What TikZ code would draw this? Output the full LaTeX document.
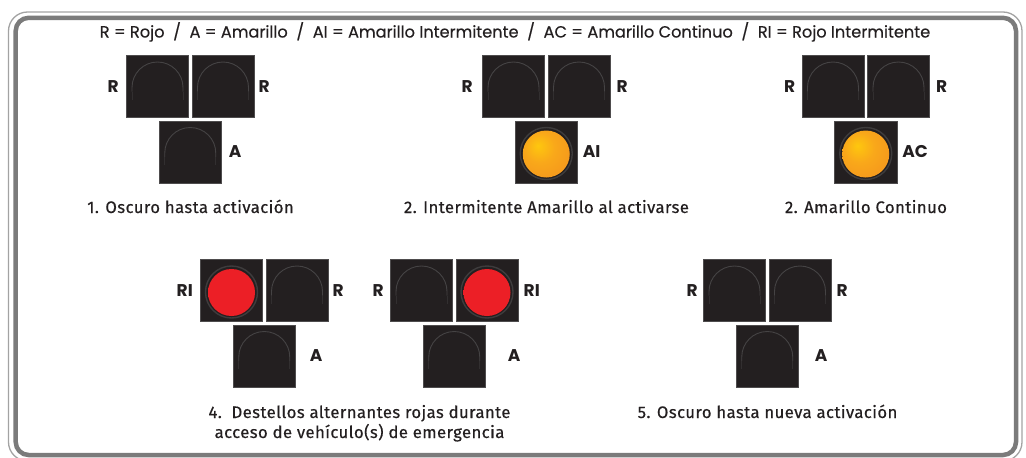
\documentclass[tikz,border=0pt]{standalone}
\usepackage{fontspec}
\setmainfont{Poppins}
\newfontfamily\legendfont[FakeBold=0.4]{Poppins}
\newfontfamily\capfont[FakeBold=0.5, LetterSpace=2.5]{Fira Sans}
\usetikzlibrary{positioning, calc}

\definecolor{housing}{HTML}{231F20}
\definecolor{housingedge}{HTML}{4E4C4D}
\definecolor{archgray}{HTML}{454344}
\definecolor{ringgray}{HTML}{3E3C3D}
\definecolor{framethick}{HTML}{7B7B7B}
\definecolor{framethin}{HTML}{A3A3A3}
\definecolor{tagcol}{HTML}{231F20}
\definecolor{amberin}{HTML}{FEC70E}
\definecolor{ambermid}{HTML}{F9A81A}
\definecolor{amberout}{HTML}{F28C1E}
\definecolor{redin}{HTML}{EC1F26}
\definecolor{redout}{HTML}{CF1A21}

\pgfdeclareradialshading{amberglow}{\pgfpoint{-9bp}{9bp}}{color(0bp)=(amberin); color(16bp)=(ambermid); color(46bp)=(amberout); color(70bp)=(amberout)}
\pgfdeclareradialshading{redglow}{\pgfpoint{-6bp}{6bp}}{color(0bp)=(redin); color(38bp)=(redin); color(55bp)=(redout); color(70bp)=(redout)}

% dark lens: arch that fades downwards
\newcommand{\lensarch}{%
  \draw[archgray, line width=0.9pt] ([shift={(-25.5pt,-5pt)}]path picture bounding box.center) -- ++(0pt,4pt) arc[start angle=180, end angle=0, radius=25.5pt] -- ++(0pt,-4pt);
  \draw[archgray!45!housing, line width=0.9pt] ([shift={(-25.5pt,-5pt)}]path picture bounding box.center) -- ++(0pt,-8pt);
  \draw[archgray!45!housing, line width=0.9pt] ([shift={(25.5pt,-5pt)}]path picture bounding box.center) -- ++(0pt,-8pt);
}
% lit lens: ring plus glowing disc
\newcommand{\litlens}[1]{%
  \draw[ringgray, line width=1.4pt] ([yshift=-1.5pt]path picture bounding box.center) circle[radius=26pt];
  \shade[shading=#1] ([yshift=-2pt]path picture bounding box.center) circle[radius=23.5pt];
}

\begin{document}
\begin{tikzpicture}[x=1pt, y=-1pt,
    darklens/.style={rectangle, fill=housing, draw=housingedge, line width=0.7pt, minimum size=62.3pt, inner sep=0pt, path picture={\lensarch}},
    amberlens/.style={darklens, path picture={\litlens{amberglow}}},
    redlens/.style={darklens, path picture={\litlens{redglow}}},
    tag/.style={font=\fontsize{17}{17}\selectfont\bfseries, text=tagcol, inner sep=0pt},
    caption/.style={font=\capfont\fontsize{16.7}{20}\selectfont, text=tagcol, align=center, inner sep=0pt, anchor=base}
  ]
  \useasboundingbox (0,0) rectangle (1026,458);

  % --- FRAME ---
  \draw[framethin, line width=1.3pt, rounded corners=19pt] (8.5,12) rectangle (1022,461);
  \draw[framethick, line width=4.5pt, rounded corners=13pt] (15.7,17.8) rectangle (1016,455);

  % --- LEGEND ---
  \node[font=\legendfont\fontsize{16.2}{18}\selectfont, text=tagcol, anchor=base, inner sep=0pt] (legend) at (515,37.5)
    {R = Rojo \ / \ A = Amarillo \ / \ AI = Amarillo Intermitente \ / \ AC = Amarillo Continuo \ / \ RI = Rojo Intermitente};

  % --- 1. DARK ---
  \node[darklens] (g1l) at (157.5,86.5) {};
  \node[darklens, right=2.5pt of g1l] (g1r) {};
  \coordinate (g1m) at ($(g1l.south east)!0.5!(g1r.south west)$);
  \node[darklens, below=2.5pt of g1m] (g1b) {};
  \node[tag, left=7pt of g1l] (g1lt) {R};
  \node[tag, right=4pt of g1r] (g1rt) {R};
  \node[tag, right=7pt of g1b] (g1bt) {A};
  \node[caption] (cap1) at (190.5,213) {1. Oscuro hasta activación};

  % --- 2. FLASHING AMBER ---
  \node[darklens] (g2l) at (513.5,86.5) {};
  \node[darklens, right=2.5pt of g2l] (g2r) {};
  \coordinate (g2m) at ($(g2l.south east)!0.5!(g2r.south west)$);
  \node[amberlens, below=2.5pt of g2m] (g2b) {};
  \node[tag, left=9pt of g2l] (g2lt) {R};
  \node[tag, right=6pt of g2r] (g2rt) {R};
  \node[tag, right=5pt of g2b] (g2bt) {AI};
  \node[caption] (cap2) at (546.5,213) {2. Intermitente Amarillo al activarse};

  % --- 3. STEADY AMBER ---
  \node[darklens] (g3l) at (833,86.5) {};
  \node[darklens, right=2.5pt of g3l] (g3r) {};
  \coordinate (g3m) at ($(g3l.south east)!0.5!(g3r.south west)$);
  \node[amberlens, below=2.5pt of g3m] (g3b) {};
  \node[tag, left=6pt of g3l] (g3lt) {R};
  \node[tag, right=6pt of g3r] (g3rt) {R};
  \node[tag, right=5pt of g3b] (g3bt) {AC};
  \node[caption] (cap3) at (866,213) {2. Amarillo Continuo};

  % --- 4. ALTERNATING RED ---
  \node[redlens] (g4l) at (231.5,290.5) {};
  \node[darklens, right=2.5pt of g4l] (g4r) {};
  \coordinate (g4m) at ($(g4l.south east)!0.5!(g4r.south west)$);
  \node[darklens, below=2.5pt of g4m] (g4b) {};
  \node[tag, left=7pt of g4l] (g4lt) {RI};
  \node[tag, right=4pt of g4r] (g4rt) {R};
  \node[tag, right=14pt of g4b] (g4bt) {A};

  \node[darklens] (g4xl) at (421.5,290.5) {};
  \node[redlens, right=2.5pt of g4xl] (g4xr) {};
  \coordinate (g4xm) at ($(g4xl.south east)!0.5!(g4xr.south west)$);
  \node[darklens, below=2.5pt of g4xm] (g4xb) {};
  \node[tag, left=6pt of g4xl] (g4xlt) {R};
  \node[tag, right=5pt of g4xr] (g4xrt) {RI};
  \node[tag, right=22pt of g4xb] (g4xbt) {A};
  \node[caption] (cap4) at (359.5,438) {4.\ \ Destellos alternantes rojas durante\\acceso de vehículo(s) de emergencia};

  % --- 5. DARK AGAIN ---
  \node[darklens] (g5l) at (734.5,290.5) {};
  \node[darklens, right=2.5pt of g5l] (g5r) {};
  \coordinate (g5m) at ($(g5l.south east)!0.5!(g5r.south west)$);
  \node[darklens, below=2.5pt of g5m] (g5b) {};
  \node[tag, left=5pt of g5l] (g5lt) {R};
  \node[tag, right=5pt of g5r] (g5rt) {R};
  \node[tag, right=16pt of g5b] (g5bt) {A};
  \node[caption] (cap5) at (767.5,418) {5. Oscuro hasta nueva activación};
\end{tikzpicture}
\end{document}
